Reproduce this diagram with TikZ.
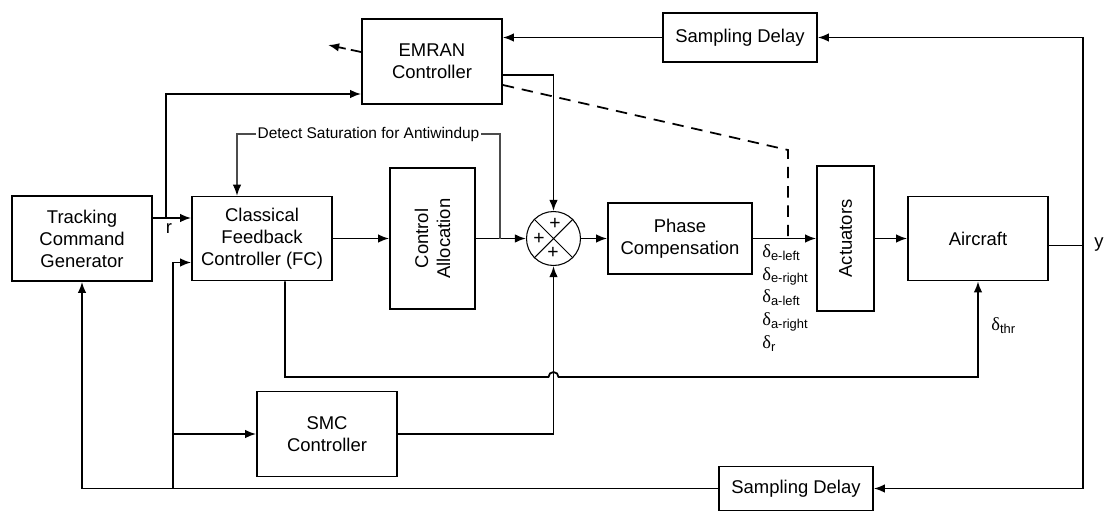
\documentclass[tikz,border=0pt]{standalone}
\usepackage{fontspec}
\setmainfont{Liberation Sans}
\newfontfamily\greekfont{Liberation Serif}
\usetikzlibrary{arrows.meta}
\usetikzlibrary{positioning}

\newcommand{\dsub}[1]{{\greekfont δ}\textsubscript{#1}}

\tikzset{
  block/.style={draw,line width=1pt,align=center,inner sep=2pt,font=\fontsize{10.5}{12.5}\selectfont},
  wire/.style={line width=1pt},
  arr/.style={line width=1pt,-{Latex[length=2.2mm,width=1.7mm]}},
  awire/.style={line width=0.6pt,black!70,-{Latex[length=2.2mm,width=1.7mm,black]}},
  lbl/.style={inner sep=0pt,font=\fontsize{10.5}{13}\selectfont},
}

\begin{document}
\begin{tikzpicture}[x=0.02cm,y=-0.02cm]
\useasboundingbox (0,0) rectangle (1107,511);

% blocks of the main row
\node[block,minimum width=2.8cm,minimum height=1.7cm] (tcg) at (82,238.5) {Tracking\\Command\\Generator};
\node[block,minimum width=2.8cm,minimum height=1.68cm] (fc) at (262,238.5) {Classical\\Feedback\\Controller (FC)};
\node[block,minimum width=2.82cm,minimum height=1.7cm,rotate=90] (alloc) at (432.5,238.5) {Control\\Allocation};
\node[circle,draw,line width=0.6pt,minimum size=1.08cm,inner sep=0pt] (sum) at (553.5,238.5) {};
\node[block,minimum width=2.88cm,minimum height=1.42cm] (phase) at (680,238.5) {Phase\\Compensation};
\node[block,minimum width=2.9cm,minimum height=1.14cm,rotate=90] (act) at (845.5,238.5) {Actuators};
\node[block,minimum width=2.8cm,minimum height=1.68cm] (aircraft) at (978,238.5) {Aircraft};

% other blocks
\node[block,minimum width=2.8cm,minimum height=1.7cm] (emran) at (432,61.5) {EMRAN\\Controller};
\node[block,minimum width=3.08cm,minimum height=0.98cm] (sdtop) at (740,37.5) {Sampling Delay};
\node[block,minimum width=2.8cm,minimum height=1.7cm] (smc) at (327,434) {SMC\\Controller};
\node[block,minimum width=3.08cm,minimum height=0.88cm] (sdbot) at (796,488.5) {Sampling Delay};

% summing junction
\draw[line width=0.6pt] (sum.north west) -- (sum.south east) (sum.north east) -- (sum.south west);
\node[lbl,font=\fontsize{11}{11}\selectfont] (p1) at (555,224) {+};
\node[lbl,font=\fontsize{11}{11}\selectfont] (p2) at (539,238.5) {+};
\node[lbl,font=\fontsize{11}{11}\selectfont] (p3) at (553,253) {+};

% junction points
\coordinate (r) at (166,218);
\coordinate (b) at (173,488.5);
\coordinate (yj) at (1083,245.5);
\coordinate (lowy) at (0,377);
\coordinate (aw) at (500,238.5);
\coordinate (awtop) at (500,134);
\coordinate (dj) at (788,238.5);
\coordinate (dtop) at (0,150);

% main path
\draw[arr] (tcg.east |- r) -- (fc.west |- r);
\draw[arr] (r) |- ([yshift=-0.65cm]emran.west);
\draw[arr] (fc.east) -- (alloc.north);
\draw[arr] (alloc.south) -- (sum.west);
\draw[arr] (sum.east) -- (phase.west);
\draw[arr] (phase.east) -- (act.north);
\draw[arr] (act.south) -- (aircraft.west);
\draw[wire] (aircraft.east |- yj) -- (yj);

% feedback paths
\draw[arr] (yj) |- (sdtop.east);
\draw[arr] (yj) |- (sdbot.east);
\draw[arr] (sdtop.west) -- (emran.east |- sdtop.west);
\draw[arr] (sdbot.west) -| (tcg.south);
\draw[arr] (b) |- ([yshift=-0.48cm]fc.west);
\draw[arr] (b |- smc.west) -- (smc.west);

% controller outputs
\draw[arr] ([yshift=-0.27cm]emran.east) -| (sum.north);
\draw[arr] (smc.east) -| (sum.south);
\draw[arr] ([xshift=0.46cm]fc.south) |- ([xshift=-0.1cm]sum.south |- lowy) arc[start angle=180,end angle=0,radius=0.1cm] -| (aircraft.south);

% adaptation
\draw[wire,dashed,dash pattern=on 6.5pt off 4.5pt] ([yshift=-0.47cm]emran.east) -- (dj |- dtop) -- (dj);
\draw[arr,dashed,dash pattern=on 6pt off 3pt] ([yshift=0.19cm]emran.west) -- ++(-33,-7);

% antiwindup
\draw[awire] (aw) -- (awtop) -- node[fill=white,inner sep=1pt,text=black,font=\fontsize{8.8}{10}\selectfont] (awtext) {Detect Saturation for Antiwindup} ([xshift=-0.5cm]fc.north |- awtop) -- ([xshift=-0.5cm]fc.north);

% labels
\node[lbl] (rlbl) at (169,229) {r};
\node[lbl] (ylbl) at (1099,245) {y};
\node[lbl,anchor=north west,align=left] (deltas) at (762,244) {\dsub{e-left}\\\dsub{e-right}\\\dsub{a-left}\\\dsub{a-right}\\\dsub{r}};
\node[lbl,anchor=west] (dthr) at (991,326) {\dsub{thr}};

\end{tikzpicture}
\end{document}
